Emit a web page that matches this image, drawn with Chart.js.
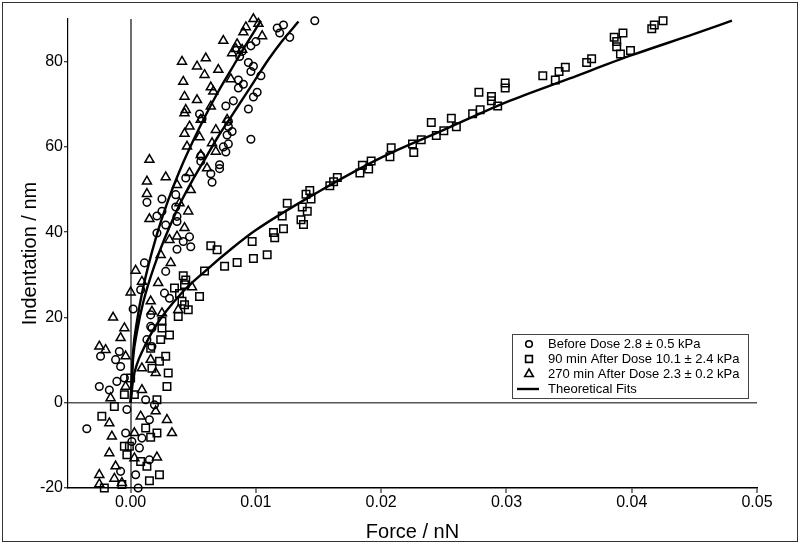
<!DOCTYPE html>
<html>
<head>
<meta charset="utf-8">
<script src="https://cdn.jsdelivr.net/npm/chart.js@4.4.1/dist/chart.umd.min.js"></script>
<style>
  html, body { margin: 0; padding: 0; background: #fff; }
  canvas { display: block; }
</style>
</head>
<body>
<canvas id="myChart" width="800" height="544"></canvas>
<script>
// Before dose (circles)
const beforeForce = [0.0147, 0.0122, 0.0117, 0.0119, 0.0127, 0.0100, 0.0096, 0.0089, 0.0087, 0.0094,
  0.0098, 0.0096, 0.0104, 0.0086, 0.0090, 0.0086, 0.0101, 0.0098, 0.0082, 0.0076,
  0.0094, 0.0055, 0.0057, 0.0078, 0.0078, 0.0081, 0.0096, 0.0077, 0.0078, 0.0074,
  0.0076, 0.0071, 0.0071, 0.0064, 0.0065, 0.0044, 0.0036, 0.0037, 0.0047, 0.0042,
  0.0048, 0.0037, 0.0056, 0.0056, 0.0013, 0.0025, 0.0021, 0.0025, 0.0036, 0.0037,
  0.0028, 0.0021, 0.0011, 0.0028, 0.0027, 0.0031, 0.0002, 0.0016, 0.0017, 0.0008,
  -0.0024, -0.0012, -0.0009, -0.0008, -0.0005, -0.0011, -0.0025, -0.0017, 0.0013, 0.0017,
  0.0016, 0.0012, 0.0019, -0.0035, -0.0004, 0.0015, 0.0001, 0.0007, 0.0015, -0.0008,
  0.0004, 0.0006, 0.0009, -0.0003];
const beforeIndent = [89.6, 88.6, 87.9, 86.7, 85.7, 84.7, 83.7, 82.4, 81.2, 79.8,
  78.9, 77.7, 76.7, 75.7, 74.7, 73.8, 72.8, 71.7, 70.8, 69.6,
  68.9, 67.7, 66.6, 66.0, 64.8, 63.6, 61.8, 62.8, 60.7, 60.0,
  58.8, 55.8, 54.9, 53.7, 51.7, 52.7, 48.8, 42.5, 38.9, 37.8,
  36.6, 36.0, 57.9, 56.6, 47.0, 47.8, 43.8, 44.9, 45.9, 43.7,
  41.7, 39.8, 32.8, 30.8, 25.7, 24.5, 22.0, 20.6, 17.5, 26.5,
  10.9, 10.1, 12.0, 8.5, 5.8, 5.0, 3.8, 3.0, 14.8, 13.2,
  17.9, 0.7, -0.5, -6.1, -7.1, -4.0, -9.1, -10.6, -13.4, -16.1,
  -16.9, -20.0, -8.3, -1.6];

// 90 min after dose (squares)
const dose90Force = [0.0425, 0.0418, 0.0416, 0.0393, 0.0386, 0.0388, 0.0388, 0.0399, 0.0391, 0.0368,
  0.0364, 0.0347, 0.0342, 0.0329, 0.0339, 0.0299, 0.0299, 0.0278, 0.0288, 0.0288,
  0.0293, 0.0279, 0.0273, 0.0256, 0.0240, 0.0260, 0.0250, 0.0244, 0.0232, 0.0225,
  0.0208, 0.0226, 0.0207, 0.0192, 0.0185, 0.0190, 0.0183, 0.0165, 0.0162, 0.0159,
  0.0143, 0.0140, 0.0144, 0.0125, 0.0137, 0.0141, 0.0121, 0.0136, 0.0138, 0.0122,
  0.0114, 0.0115, 0.0097, 0.0064, 0.0069, 0.0109, 0.0098, 0.0085, 0.0075, 0.0059,
  0.0042, 0.0044, 0.0043, 0.0035, 0.0055, 0.0041, 0.0043, 0.0046, 0.0038, 0.0039,
  0.0025, 0.0025, 0.0031, 0.0024, 0.0016, 0.0028, 0.0023, 0.0030, 0.0029, 0.0017,
  -0.0005, 0.0003, 0.0021, -0.0013, 0.0000, -0.0023, 0.0021, 0.0016, -0.0005, -0.0003,
  0.0013, 0.0008, 0.0023, 0.0015, -0.0021, -0.0007, -0.0001, 0.0012];
const dose90Indent = [89.6, 88.6, 87.7, 86.7, 85.7, 84.7, 83.5, 82.6, 81.8, 80.7,
  79.8, 78.7, 77.7, 76.7, 75.7, 75.0, 73.8, 72.8, 71.8, 70.8,
  69.6, 68.7, 67.8, 66.7, 65.7, 64.7, 63.8, 62.7, 61.7, 60.7,
  59.8, 58.7, 57.7, 56.7, 55.7, 54.8, 53.9, 52.8, 51.8, 50.9,
  49.8, 48.9, 47.8, 46.8, 45.9, 44.9, 43.8, 42.9, 41.8, 40.8,
  39.9, 38.7, 37.8, 36.8, 35.9, 34.7, 33.8, 32.9, 32.0, 30.9,
  29.8, 28.8, 27.7, 26.9, 24.9, 23.8, 23.0, 21.8, 20.2, 25.6,
  19.1, 17.5, 15.9, 14.8, 12.8, 10.9, 9.7, 7.0, 3.8, 8.1,
  1.9, 1.9, 0.7, -0.9, 5.8, -3.2, -7.1, -8.1, -10.2, -12.2,
  -14.9, -13.8, -16.9, -18.3, -20.0, -19.2, -10.2, -5.9];

// 270 min after dose (triangles)
const dose270Force = [0.0098, 0.0102, 0.0092, 0.0090, 0.0105, 0.0074, 0.0085, 0.0084, 0.0081, 0.0089,
  0.0060, 0.0041, 0.0053, 0.0070, 0.0059, 0.0042, 0.0064, 0.0066, 0.0080, 0.0043,
  0.0053, 0.0064, 0.0044, 0.0043, 0.0056, 0.0077, 0.0047, 0.0068, 0.0043, 0.0055,
  0.0065, 0.0045, 0.0068, 0.0056, 0.0061, 0.0047, 0.0048, 0.0039, 0.0046, 0.0043,
  0.0037, 0.0049, 0.0038, 0.0015, 0.0028, 0.0013, 0.0013, 0.0037, 0.0015, 0.0031,
  0.0004, 0.0000, -0.0014, 0.0022, 0.0024, 0.0032, 0.0009, 0.0016, 0.0017, 0.0025,
  -0.0005, -0.0025, -0.0020, -0.0008, -0.0004, 0.0009, 0.0016, 0.0020, 0.0009, -0.0004,
  -0.0016, -0.0017, -0.0015, 0.0008, 0.0029, 0.0033, -0.0017, 0.0003, 0.0021, -0.0012,
  -0.0025, -0.0013, -0.0025, -0.0007, 0.0003, 0.0020];
const dose270Indent = [90.0, 88.9, 88.1, 86.9, 86.0, 84.9, 84.1, 83.0, 82.0, 82.8,
  80.8, 80.0, 78.9, 78.1, 76.9, 75.3, 74.0, 73.0, 75.9, 71.8,
  71.0, 69.5, 68.7, 67.9, 66.4, 66.4, 64.8, 64.0, 63.1, 62.3,
  60.9, 60.1, 58.9, 58.1, 55.0, 53.9, 49.9, 46.8, 44.9, 41.0,
  39.0, 27.1, 21.8, 57.0, 52.9, 51.9, 49.0, 51.1, 43.1, 38.2,
  31.0, 25.9, 20.0, 28.1, 34.7, 32.8, 28.4, 23.8, 21.4, 21.0,
  17.5, 13.2, 12.4, 15.2, 10.9, 8.1, 10.1, 7.0, 3.0, 3.8,
  1.1, -4.8, -7.9, -3.2, -4.0, -7.1, -11.8, -13.0, -12.8, -14.9,
  -16.9, -17.8, -19.1, -18.8, -7.1, -2.0];

// theoretical fit curves
const fitBeforeForce = [0, 0.0002, 0.0005, 0.001, 0.002, 0.003, 0.004, 0.005, 0.006, 0.007, 0.008, 0.009, 0.010, 0.011, 0.012, 0.0134];
const fitBeforeIndent = [0, 10.5, 16.5, 23.5, 33, 40.5, 47, 52.5, 57.5, 62.5, 67, 71.5, 76, 80.5, 84.5, 89.4];
const fit90Force = [0, 0.0002, 0.0005, 0.001, 0.002, 0.004, 0.006, 0.008, 0.010, 0.015, 0.020, 0.025, 0.030, 0.035, 0.040, 0.045, 0.048];
const fit90Indent = [0, 5.5, 9, 12.5, 18, 25.5, 31, 36, 40.5, 49.5, 57.5, 64, 70.5, 76, 81.5, 86.5, 89.6];
const fit270Force = [0, 0.0002, 0.0005, 0.001, 0.002, 0.003, 0.004, 0.005, 0.006, 0.007, 0.008, 0.009, 0.0104];
const fit270Indent = [0, 12, 19, 27, 38.5, 47.5, 55, 61.5, 67.5, 73, 78, 83, 89.6];

const xTicks = [0, 0.01, 0.02, 0.03, 0.04, 0.05];
const yTicks = [-20, 0, 20, 40, 60, 80];
const seriesLabels = ["Before Dose 2.8 \u00b1 0.5 kPa", "90 min After Dose 10.1 \u00b1 2.4 kPa", "270 min After Dose 2.3 \u00b1 0.2 kPa"];
const fitLabel = "Theoretical Fits";

const toPoints = (xs, ys) => xs.map((x, i) => ({ x: x, y: ys[i] }));

Chart.defaults.font.family = "'Liberation Sans', Arial, sans-serif";
Chart.defaults.color = "#000";

function markerSet(label, xs, ys, style, radius) {
  return {
    type: "scatter",
    label: label,
    data: toPoints(xs, ys),
    pointStyle: style,
    pointRadius: radius,
    pointHoverRadius: radius,
    pointBorderWidth: 1.5,
    pointBorderColor: "#000",
    pointBackgroundColor: "rgba(0,0,0,0)",
    showLine: false,
    clip: 8,
    order: 1
  };
}

function fitSet(xs, ys) {
  return {
    type: "line",
    label: fitLabel,
    data: toPoints(xs, ys),
    borderColor: "#000",
    borderWidth: 2.4,
    pointRadius: 0,
    cubicInterpolationMode: "monotone",
    fill: false,
    order: 0
  };
}

const frame = {
  id: "frame",
  beforeDraw(chart) {
    const c = chart.ctx;
    c.save();
    c.fillStyle = "#fff";
    c.fillRect(0, 0, chart.width, chart.height);
    c.restore();
  },
  afterDraw(chart) {
    const c = chart.ctx;
    c.save();
    c.strokeStyle = "#333";
    c.lineWidth = 1;
    c.strokeRect(2.5, 2.5, chart.width - 5, chart.height - 5);

    // legend box
    const left = 512, top = 334, w = 236, h = 64;
    c.fillStyle = "#fff";
    c.fillRect(left, top, w, h);
    c.strokeStyle = "#444";
    c.strokeRect(left + 0.5, top + 0.5, w, h);
    c.font = "13px 'Liberation Sans', Arial, sans-serif";
    c.textBaseline = "middle";
    const styles = [["circle", 3.3], ["rect", 4.8], ["triangle", 5]];
    const rowH = 15, symX = left + 17, txtX = left + 36;
    chart.data.datasets.slice(0, 3).forEach((ds, i) => {
      const y = top + 10 + i * rowH;
      c.fillStyle = "rgba(0,0,0,0)";
      c.strokeStyle = "#000";
      c.lineWidth = 1.6;
      Chart.helpers.drawPoint(c, { pointStyle: styles[i][0], radius: styles[i][1], rotation: 0, borderWidth: 1.6 }, symX, y);
      c.fillStyle = "#000";
      c.fillText(ds.label, txtX, y);
    });
    const ly = top + 10 + 3 * rowH;
    c.beginPath();
    c.moveTo(left + 5, ly);
    c.lineTo(left + 27, ly);
    c.lineWidth = 2.4;
    c.strokeStyle = "#000";
    c.stroke();
    c.fillStyle = "#000";
    c.fillText(fitLabel, txtX, ly);
    c.restore();
  }
};

const ctx = document.getElementById("myChart").getContext("2d");
const chart = new Chart(ctx, {
  data: {
    datasets: [
      markerSet(seriesLabels[0], beforeForce, beforeIndent, "circle", 3.8),
      markerSet(seriesLabels[1], dose90Force, dose90Indent, "rect", 5.3),
      markerSet(seriesLabels[2], dose270Force, dose270Indent, "triangle", 5.2),
      fitSet(fitBeforeForce, fitBeforeIndent),
      fitSet(fit90Force, fit90Indent),
      fitSet(fit270Force, fit270Indent)
    ]
  },
  options: {
    responsive: false,
    animation: false,
    devicePixelRatio: 1,
    layout: { padding: { top: 19, right: 43, bottom: 0, left: 0 } },
    plugins: {
      legend: { display: false },
      tooltip: { enabled: false }
    },
    scales: {
      x: {
        type: "linear",
        min: -0.005,
        max: 0.05,
        afterBuildTicks: s => { s.ticks = xTicks.map(v => ({ value: v })); },
        afterFit: s => { s.height = 56; },
        ticks: {
          callback: v => v.toFixed(2),
          font: { size: 16 },
          padding: 0,
          maxRotation: 0,
          autoSkip: false
        },
        grid: {
          color: c => (c.tick && c.tick.value === 0 ? "#6e6e6e" : "rgba(0,0,0,0)"),
          lineWidth: 2,
          tickColor: "#000",
          tickLength: 5,
          tickWidth: 1
        },
        border: { color: "#000", width: 1.5 },
        title: {
          display: true,
          text: "Force / nN",
          font: { size: 20 },
          padding: { top: 0, bottom: 0 }
        }
      },
      y: {
        type: "linear",
        min: -20,
        max: 90,
        afterBuildTicks: s => { s.ticks = yTicks.map(v => ({ value: v })); },
        afterFit: s => { s.width = 68; },
        ticks: {
          font: { size: 16 },
          padding: 1
        },
        grid: {
          color: c => (c.tick && c.tick.value === 0 ? "#555" : "rgba(0,0,0,0)"),
          lineWidth: 1.5,
          tickColor: "#000",
          tickLength: 4,
          tickWidth: 1
        },
        border: { color: "#000", width: 1.2 },
        title: {
          display: true,
          text: "Indentation / nm",
          font: { size: 20 },
          padding: { top: 18, bottom: 0 }
        }
      }
    }
  },
  plugins: [frame]
});
</script>
</body>
</html>
